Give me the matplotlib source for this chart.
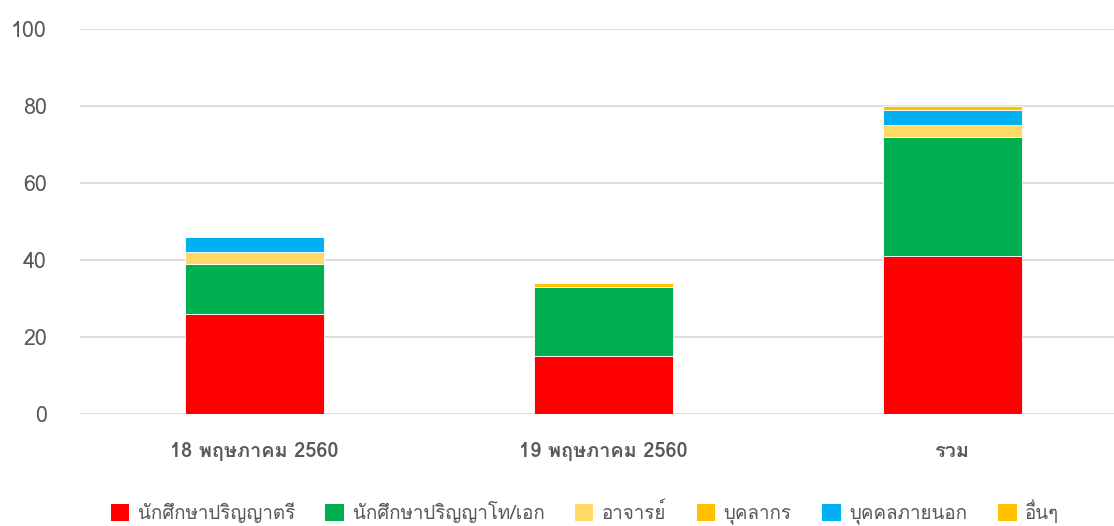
import numpy as np
import matplotlib
matplotlib.use("Agg")
import matplotlib.pyplot as plt
from matplotlib import font_manager
from matplotlib.ft2font import FT2Font
from matplotlib.patches import Patch

categories = ['18 พฤษภาคม 2560', '19 พฤษภาคม 2560', 'รวม']
series_names = ['นักศึกษาปริญญาตรี', 'นักศึกษาปริญญาโท/เอก', 'อาจารย์',
                'บุคลากร', 'บุคคลภายนอก', 'อื่นๆ']
undergrad = [26, 15, 41]
grad = [13, 18, 31]
lecturer = [3, 0, 3]
staff = [0, 0, 0]
outsider = [4, 0, 4]
other = [0, 1, 1]
colors = ['#FF0000', '#00B050', '#FFD966', '#FFC000', '#00B0F0', '#FFC000']

# find an installed font that has Thai glyphs
thai_font = None
for f in font_manager.fontManager.ttflist:
    try:
        if 0x0E01 in FT2Font(f.fname).get_charmap():
            thai_font = f.name
            break
    except Exception:
        pass
families = ([thai_font] if thai_font else []) + ['DejaVu Sans']
plt.rcParams['font.family'] = families

fig = plt.figure(figsize=(11.14, 5.26), dpi=100)
ax = fig.add_axes([80 / 1114, 1 - 414 / 526, 1 - 80 / 1114, 385 / 526])

x = np.arange(len(categories))
bottom = np.zeros(len(categories))
for vals, name, c in zip([undergrad, grad, lecturer, staff, outsider, other],
                         series_names, colors):
    ax.bar(x, vals, 0.4, bottom=bottom, color=c, edgecolor='white',
           linewidth=0.6, label=name, zorder=3)
    bottom += np.array(vals)

ax.set_ylim(0, 100)
ax.set_xlim(-0.5, 2.5 - 13 / 349)
ax.set_yticks(range(0, 101, 20))
ax.yaxis.grid(True, color='#D9D9D9', linewidth=1.3, zorder=0)
for s in ax.spines.values():
    s.set_visible(False)
ax.tick_params(axis='y', length=0, pad=24, labelsize=15.5, labelcolor='#595959')
ax.tick_params(axis='x', length=0, pad=20, labelsize=14.3, labelcolor='#595959')
ax.set_xticks(x)
ax.set_xticklabels(categories, fontweight='bold')

handles = [Patch(facecolor=c) for c in colors]
fig.legend(handles, series_names, loc='lower center', ncol=6, frameon=False,
           bbox_to_anchor=(0.525, -0.029), fontsize=13.5, handlelength=1.0,
           handleheight=1.0, handletextpad=0.45, columnspacing=1.62,
           labelcolor='#595959')

fig.savefig('out.png', dpi=100)
